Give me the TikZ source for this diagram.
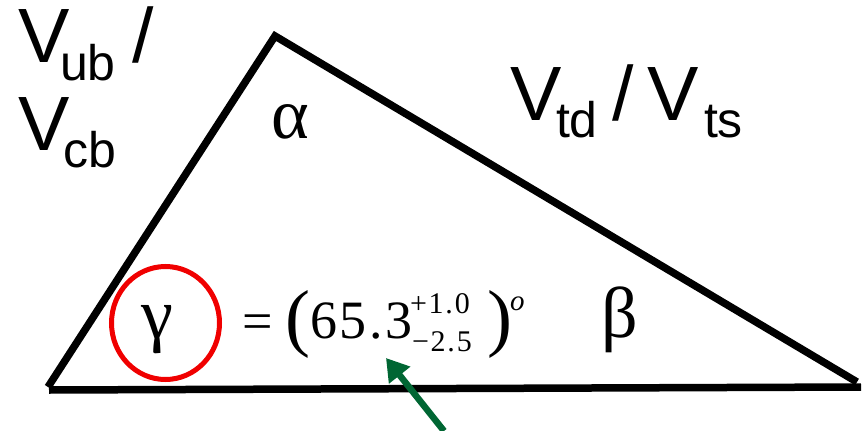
\documentclass[tikz,border=0pt]{standalone}
\usepackage{fontspec}
\setmainfont{Liberation Serif}
\newfontfamily\arialf{Liberation Sans}
\newfontfamily\eqfont[LetterSpace=5]{Liberation Serif}
\newfontfamily\eqsfont[LetterSpace=6]{Liberation Serif}
\usetikzlibrary{arrows.meta}
\definecolor{arrowgreen}{RGB}{0,102,51}
\definecolor{circred}{RGB}{240,0,0}
\tikzset{
  txt/.style={inner sep=0pt, outer sep=0pt, anchor=base west},
  bigV/.style={txt, font=\arialf\fontsize{77}{80}\selectfont},
  subV/.style={txt, font=\arialf\fontsize{50}{54}\selectfont},
  greek/.style={txt, font=\fontsize{72}{76}\selectfont},
  eqmain/.style={txt, font=\eqfont\fontsize{54}{56}\selectfont},
  eqsmall/.style={txt, font=\eqsfont\fontsize{30}{32}\selectfont},
  eqparen/.style={txt, font=\fontsize{75}{78}\selectfont},
  edge/.style={line width=7.5pt, line join=miter, black},
  ring/.style={draw=circred, line width=5pt},
  pointer/.style={draw=arrowgreen, line width=6.5pt, -{Triangle[length=22pt,width=26pt]}, fill=arrowgreen}
}
\begin{document}
\begin{tikzpicture}[x=1pt,y=-1pt]
\useasboundingbox (0,0) rectangle (862,431);
% triangle corners
\coordinate (A) at (48,387);
\coordinate (T) at (275,36);
\coordinate (R) at (857,382);
\coordinate (B1) at (49,390);
\coordinate (B2) at (861,387);
\draw[edge] (A) -- (T) -- (R);
\draw[edge] (B1) -- (B2);
% side labels
\node[bigV] (v1) at (18,62) {V};
\node[subV] (s1) at (60,80) {ub};
\node[bigV] (sl1) at (132,62) {/};
\node[bigV] (v2) at (18,150) {V};
\node[subV] (s2) at (63,167) {cb};
\node[bigV] (v3) at (510,120) {V};
\node[subV] (s3) at (556,137) {td};
\node[bigV] (sl2) at (612,120) {/};
\node[bigV] (v4) at (647,120) {V};
\node[subV] (s4) at (704,137) {ts};
% angles
\node[greek] (alpha) at (271,138) {α};
\node[greek] (beta) at (601,337) {β};
\node[greek] (gamma) at (141,338) {γ};
\draw[ring] (165.5,323) ellipse [x radius=54, y radius=56.5];
% equation
\node[txt, font=\fontsize{54}{56}\selectfont] (eq) at (242,339) {=};
\node[eqparen] (lp) at (285,342) {(};
\node[eqmain] (num) at (310,338) {65.3};
\node[eqsmall] (sup) at (410,313) {+1.0};
\node[eqsmall] (sub) at (412,351) {−2.5};
\node[eqparen] (rp) at (487,342) {)};
\node[txt, font=\fontsize{29}{30}\selectfont] (deg) at (510,310) {\itshape o};
% green arrow
\coordinate (gtail) at (444,431);
\coordinate (gtip) at (386,358);
\draw[pointer] (gtail) -- (gtip);
\end{tikzpicture}
\end{document}
